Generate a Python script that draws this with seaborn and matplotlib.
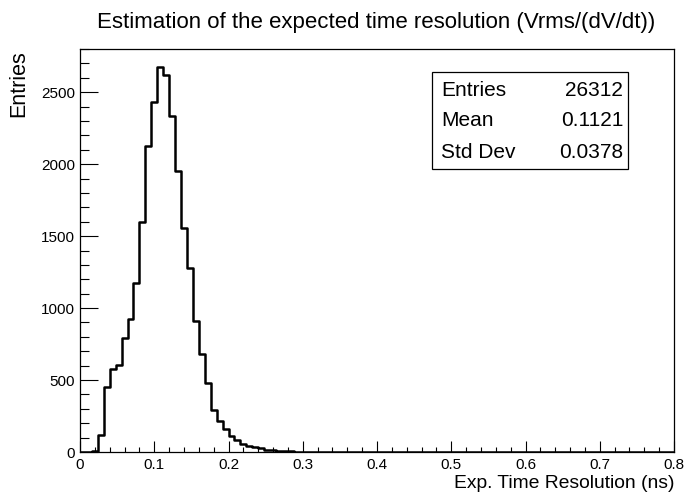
import numpy as np
import pandas as pd
import matplotlib
matplotlib.use("Agg")
import matplotlib.pyplot as plt
from matplotlib.ticker import MultipleLocator, FixedLocator, FixedFormatter
from matplotlib.patches import Rectangle
import seaborn as sns

# ---- data ----
x_min, x_max, bin_width = 0.0, 0.8, 0.008
counts = [
    0, 3, 8, 115, 449, 574, 604, 794, 924, 1171,
    1600, 2125, 2433, 2676, 2618, 2333, 1954, 1553, 1280, 910,
    680, 477, 292, 213, 157, 109, 86, 55, 45, 35,
    25, 17, 12, 8, 6, 4, 3, 2, 2, 1,
    1, 0, 0, 0, 0, 0, 0, 0, 0, 0,
    0, 0, 0, 0, 0, 0, 0, 0, 0, 0,
    0, 0, 0, 0, 0, 0, 0, 0, 0, 0,
    0, 0, 0, 0, 0, 0, 0, 0, 0, 0,
    0, 0, 0, 0, 0, 0, 0, 0, 0, 0,
    0, 0, 0, 0, 0, 0, 0, 0, 0, 0,
]
x_ticks = [0, 0.1, 0.2, 0.3, 0.4, 0.5, 0.6, 0.7, 0.8]
x_tick_labels = ["0", "0.1", "0.2", "0.3", "0.4", "0.5", "0.6", "0.7", "0.8"]
y_ticks = [0, 500, 1000, 1500, 2000, 2500]
y_tick_labels = ["0", "500", "1000", "1500", "2000", "2500"]
stat_names = ["Entries", "Mean", "Std Dev"]
stat_values = ["26312", "0.1121", "0.0378"]
title = "Estimation of the expected time resolution (Vrms/(dV/dt))"
x_label = "Exp. Time Resolution (ns)"
y_label = "Entries"

# ---- style ----
sns.set_style("ticks")
plt.rcParams["font.family"] = ["Liberation Sans", "DejaVu Sans"]
plt.rcParams["text.color"] = "black"
plt.rcParams["xtick.color"] = "black"
plt.rcParams["ytick.color"] = "black"
plt.rcParams["xtick.labelcolor"] = "black"
plt.rcParams["ytick.labelcolor"] = "black"

W, H = 685, 493
fig = plt.figure(figsize=(W / 100, H / 100), dpi=100)
ax_l, ax_r, ax_t, ax_b = 80, 674, 49, 452
ax = fig.add_axes([ax_l / W, 1 - ax_b / H, (ax_r - ax_l) / W, (ax_b - ax_t) / H])

centers = x_min + bin_width * (np.arange(len(counts)) + 0.5)
df = pd.DataFrame({"t": centers, "n": counts})
sns.histplot(data=df, x="t", weights="n", binwidth=bin_width, binrange=(x_min, x_max),
             element="step", fill=False, color="black", linewidth=1.8, ax=ax)

ax.set_xlim(x_min, x_max)
ax.set_ylim(0, 2800)
ax.set_xlabel("")
ax.set_ylabel("")

ax.xaxis.set_major_locator(FixedLocator(x_ticks))
ax.xaxis.set_major_formatter(FixedFormatter(x_tick_labels))
ax.xaxis.set_minor_locator(MultipleLocator(0.02))
ax.yaxis.set_major_locator(FixedLocator(y_ticks))
ax.yaxis.set_major_formatter(FixedFormatter(y_tick_labels))
ax.yaxis.set_minor_locator(MultipleLocator(100))

for s in ax.spines.values():
    s.set_visible(True)
    s.set_linewidth(0.9)
    s.set_color("black")

ax.tick_params(axis="x", which="major", direction="in", length=7.8, width=0.8,
               labelsize=11, pad=4, top=False)
ax.tick_params(axis="x", which="minor", direction="in", length=3.8, width=0.8, top=False)
ax.tick_params(axis="y", which="major", direction="in", length=13, width=0.8,
               labelsize=11, pad=3.5, right=False)
ax.tick_params(axis="y", which="minor", direction="in", length=6.5, width=0.8, right=False)

# ---- texts ----
fig.text(376 / W, 1 - 28 / H, title, ha="center", va="baseline", fontsize=16)
fig.text(675 / W, 1 - 488 / H, x_label, ha="right", va="baseline", fontsize=13.9)
fig.text(19 / W, 1 - 50 / H, y_label, ha="center", va="top", rotation=90, fontsize=15.5)

# ---- stats box ----
bx0, bx1, by0, by1 = 432, 628, 72, 169
fig.patches.append(Rectangle((bx0 / W, 1 - by1 / H), (bx1 - bx0) / W, (by1 - by0) / H,
                             transform=fig.transFigure, facecolor="white",
                             edgecolor="black", linewidth=0.9, zorder=5))
row_y = [90, 121, 152]
for name, val, yy in zip(stat_names, stat_values, row_y):
    fig.text(441 / W, 1 - yy / H, name, ha="left", va="center", fontsize=15, zorder=6)
    fig.text(623 / W, 1 - yy / H, val, ha="right", va="center", fontsize=15, zorder=6)

fig.savefig("out.png", dpi=100)
